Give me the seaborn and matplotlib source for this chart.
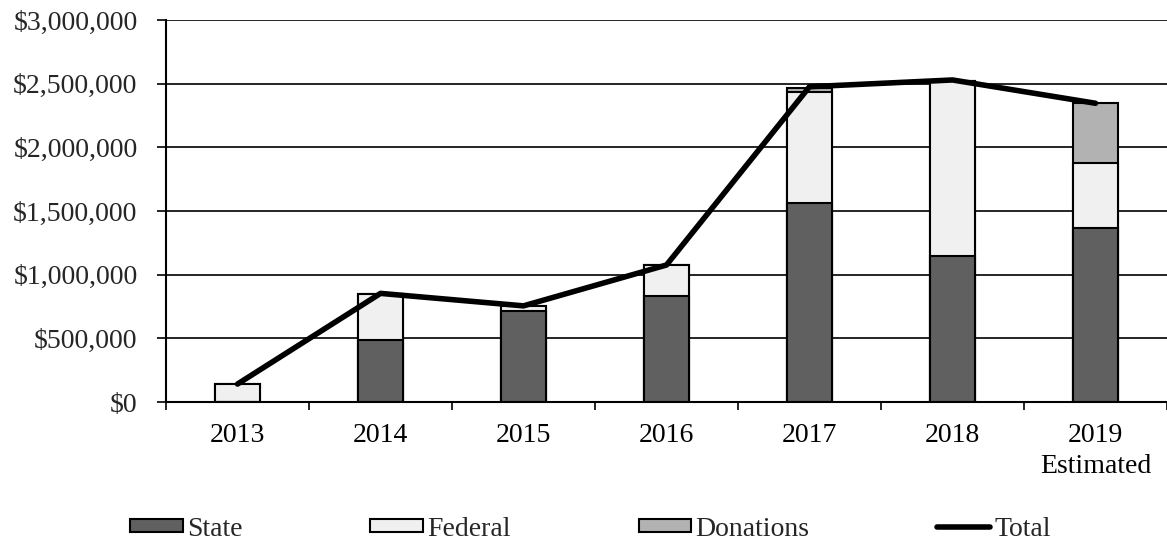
import numpy as np
import pandas as pd
import matplotlib
matplotlib.use("Agg")
import matplotlib.pyplot as plt
import seaborn as sns
from matplotlib.patches import Patch
from matplotlib.lines import Line2D
from matplotlib.ticker import FuncFormatter, FixedLocator

years = ["2013", "2014", "2015", "2016", "2017", "2018", "2019\nEstimated"]
state = [0, 487000, 717000, 832000, 1565000, 1147000, 1364000]
federal = [145000, 361000, 35000, 244000, 872000, 1375000, 511000]
donations = [0, 0, 0, 0, 27000, 0, 471000]
total = [141000, 853000, 755000, 1076000, 2476000, 2529000, 2346000]

sns.set_theme(style="white")
plt.rcParams['font.family'] = ['Liberation Serif', 'DejaVu Serif']

df = pd.DataFrame({"year": years, "State": state, "Federal": federal, "Donations": donations})
df["s1"] = df["State"]
df["s2"] = df["State"] + df["Federal"]
df["s3"] = df["s2"] + df["Donations"]

fig = plt.figure(figsize=(11.67, 5.42), dpi=100)
ax = fig.add_axes([166 / 1167, 1 - 402 / 542, 1 - 166 / 1167, (402 - 20) / 542])

colors = {"State": "#606060", "Federal": "#F0F0F0", "Donations": "#B2B2B2"}
bw = 0.315
for col, name in [("s3", "Donations"), ("s2", "Federal"), ("s1", "State")]:
    sns.barplot(data=df, x="year", y=col, color=colors[name], width=bw,
                edgecolor="black", linewidth=1.5, saturation=1, ax=ax, zorder=2)

sns.lineplot(x=np.arange(len(years)), y=total, color="black", linewidth=4,
             ax=ax, zorder=3, solid_capstyle="round")

ax.set_xlim(-0.5, len(years) - 0.5)
ax.set_ylim(0, 3000000)
ax.set_yticks(np.arange(0, 3000001, 500000))
ax.yaxis.set_major_formatter(FuncFormatter(lambda v, p: f"${v:,.0f}"))
ax.set_xticks(np.arange(len(years)))
ax.set_xticklabels(years, linespacing=1.35)
ax.xaxis.set_minor_locator(FixedLocator(np.arange(-0.5, len(years), 1.0)))
ax.tick_params(axis="x", which="major", length=0, pad=15, labelsize=20, colors="black")
ax.tick_params(axis="x", which="minor", length=6, width=1.2, direction="out", color="black", bottom=True)
ax.tick_params(axis="y", which="major", length=6.5, width=1.2, direction="out", color="black",
               labelsize=20, left=True, pad=14)
ax.set_xlabel("")
ax.set_ylabel("")
ax.grid(axis="y", color="black", linewidth=1.2, zorder=0)
ax.set_axisbelow(True)
for s in ["top", "right"]:
    ax.spines[s].set_visible(False)
for s in ["left", "bottom"]:
    ax.spines[s].set_color("black")
    ax.spines[s].set_linewidth(1.5)

handles = [
    Patch(facecolor=colors["State"], edgecolor="black", linewidth=1.5, label="State"),
    Patch(facecolor=colors["Federal"], edgecolor="black", linewidth=1.5, label="Federal"),
    Patch(facecolor=colors["Donations"], edgecolor="black", linewidth=1.5, label="Donations"),
    Line2D([0], [0], color="black", linewidth=4, label="Total"),
]
fig.legend(handles=handles, loc="center", bbox_to_anchor=(0.506, 1 - 529 / 542), ncol=4,
           frameon=False, fontsize=20, handlelength=1.9, handleheight=0.35,
           handletextpad=0.15, columnspacing=4.6, borderpad=0, borderaxespad=0)

fig.savefig("out.png", dpi=100)
